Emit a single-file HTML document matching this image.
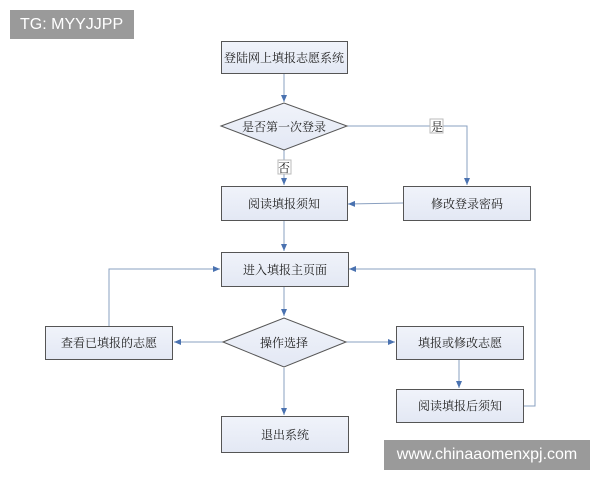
<!DOCTYPE html>
<html><head><meta charset="utf-8"><style>
body{margin:0;background:#fff;width:600px;height:480px;overflow:hidden;position:relative;font-family:"Liberation Serif","Noto Serif CJK SC",serif}
.tg{position:absolute;left:10px;top:10px;width:124px;height:29px;background:#9a9a9a;color:#fff;font:16px "Liberation Sans",sans-serif;line-height:29px;text-indent:10px}
.wm{position:absolute;left:384px;top:440px;width:206px;height:30px;background:#9a9a9a;color:#fff;font:16px "Liberation Sans",sans-serif;line-height:30px;text-align:center}
</style></head><body>
<svg width="600" height="480" style="position:absolute;left:0;top:0" font-family="Liberation Serif, Noto Serif CJK SC, serif" font-size="12" fill="#222">
<defs><marker id="a" markerWidth="8" markerHeight="8" refX="7" refY="4" orient="auto" markerUnits="userSpaceOnUse"><path d="M0,1 L7,4 L0,7z" fill="#4a72b0"/></marker>
<linearGradient id="g" x1="0" y1="0" x2="0" y2="1"><stop offset="0" stop-color="#f0f3fa"/><stop offset="1" stop-color="#e3e8f4"/></linearGradient></defs>
<g stroke="#8aa0c0" stroke-width="1" fill="none">
<line x1="284" y1="73" x2="284" y2="102" marker-end="url(#a)"/>
<polyline points="347,126 467,126 467,185" marker-end="url(#a)"/>
<line x1="284" y1="150" x2="284" y2="185" marker-end="url(#a)"/>
<line x1="403" y1="203" x2="348" y2="204" marker-end="url(#a)"/>
<line x1="284" y1="220" x2="284" y2="251" marker-end="url(#a)"/>
<line x1="284" y1="286" x2="284" y2="316" marker-end="url(#a)"/>
<line x1="223" y1="342" x2="174" y2="342" marker-end="url(#a)"/>
<line x1="346" y1="342" x2="395" y2="342" marker-end="url(#a)"/>
<line x1="284" y1="368" x2="284" y2="415" marker-end="url(#a)"/>
<line x1="459" y1="359" x2="459" y2="388" marker-end="url(#a)"/>
<polyline points="109,326 109,269 220,269" marker-end="url(#a)"/>
<polyline points="523,406 535,406 535,269 349,269" marker-end="url(#a)"/>
</g>
<g stroke="#555" stroke-width="1" fill="url(#g)">
<rect x="221.5" y="41.5" width="126" height="32"/>
<polygon points="221,126 284,103 347,126 284,150"/>
<rect x="221.5" y="186.5" width="126" height="34"/>
<rect x="403.5" y="186.5" width="127" height="34"/>
<rect x="221.5" y="252.5" width="127" height="34"/>
<polygon points="223,342 284,318 346,342 284,367"/>
<rect x="45.5" y="326.5" width="127" height="33"/>
<rect x="396.5" y="326.5" width="127" height="33"/>
<rect x="396.5" y="389.5" width="127" height="33"/>
<rect x="221.5" y="416.5" width="127" height="36"/>
</g>
<rect x="430" y="119" width="13" height="14" fill="#fff" stroke="#bbb"/>
<rect x="278" y="160" width="13" height="14" fill="#fff" stroke="#bbb"/>
<g text-anchor="middle">
<text x="284" y="62">登陆网上填报志愿系统</text>
<text x="284" y="131">是否第一次登录</text>
<text x="437" y="131">是</text>
<text x="284" y="172">否</text>
<text x="284" y="208">阅读填报须知</text>
<text x="467" y="208">修改登录密码</text>
<text x="285" y="274">进入填报主页面</text>
<text x="284" y="347">操作选择</text>
<text x="109" y="347">查看已填报的志愿</text>
<text x="460" y="347">填报或修改志愿</text>
<text x="460" y="410">阅读填报后须知</text>
<text x="285" y="439">退出系统</text>
</g>
</svg>
<div class="tg">TG: MYYJJPP</div>
<div class="wm">www.chinaaomenxpj.com</div>
</body></html>
